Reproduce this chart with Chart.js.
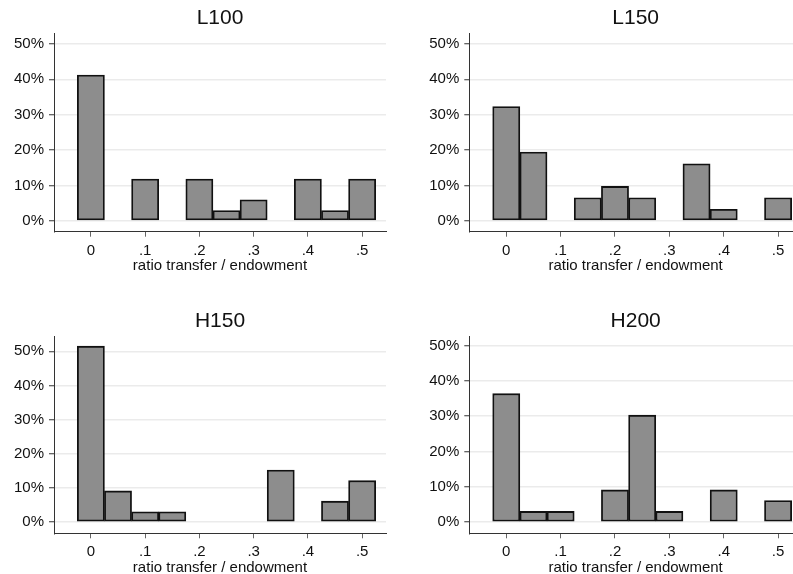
<!DOCTYPE html>
<html><head><meta charset="utf-8">
<script src="https://cdn.jsdelivr.net/npm/chart.js@4.4.1/dist/chart.umd.min.js"></script>
<style>
html,body{margin:0;padding:0;background:#fff;overflow:hidden;}
#wrap{position:relative;width:793px;height:574px;overflow:hidden;background:#fff;}
canvas{position:absolute;}
</style></head><body>
<div id="wrap">
<canvas id="c0"></canvas><canvas id="c1"></canvas><canvas id="c2"></canvas><canvas id="c3"></canvas>
</div>
<script>
// ---- data ----
const binCenters = [0, 0.05, 0.1, 0.15, 0.2, 0.25, 0.3, 0.35, 0.4, 0.45, 0.5];
const panelTitles = ['L100', 'L150', 'H150', 'H200'];
const valuesL100 = [41.2, 0, 11.8, 0, 11.8, 2.9, 5.9, 0, 11.8, 2.9, 11.8];
const valuesL150 = [32.3, 19.4, 0, 6.5, 9.7, 6.5, 0, 16.1, 3.2, 0, 6.5];
const valuesH150 = [51.5, 9.1, 3.0, 3.0, 0, 0, 0, 15.2, 0, 6.1, 12.1];
const valuesH200 = [36.4, 3.0, 3.0, 0, 9.1, 30.3, 3.0, 0, 9.1, 0, 6.1];
const xTickValues = [0, 0.1, 0.2, 0.3, 0.4, 0.5];
const xTickLabels = ['0', '.1', '.2', '.3', '.4', '.5'];
const yTickValues = [0, 10, 20, 30, 40, 50];
const yTickLabels = ['0%', '10%', '20%', '30%', '40%', '50%'];
const xAxisTitle = 'ratio transfer / endowment';

const allValues = [valuesL100, valuesL150, valuesH150, valuesH200];

// ---- layout (positions / styles) ----
const layouts = [
  {id:'c0', left:0,   top:0,   w:400, h:287, yW:54,   padR:14, tPT:5.8,  tPB:2.3, xH:43.3, padB:12,   yMin:-3.11, yMax:53.03},
  {id:'c1', left:400, top:0,   w:416, h:287, yW:69.3, padR:14, tPT:5.8,  tPB:2.3, xH:43.3, padB:12,   yMin:-3.11, yMax:53.03},
  {id:'c2', left:0,   top:287, w:400, h:300, yW:54,   padR:14, tPT:21.7, tPB:2.1, xH:43.3, padB:10.4, yMin:-3.31, yMax:54.48},
  {id:'c3', left:400, top:287, w:416, h:300, yW:69.3, padR:14, tPT:21.7, tPB:2.1, xH:43.3, padB:10.4, yMin:-3.2,  yMax:52.75}
];
const FONT = '"Liberation Sans", Arial, sans-serif';
const TXT = '#111';

layouts.forEach((L, k) => {
  const cv = document.getElementById(L.id);
  cv.width = L.w; cv.height = L.h;
  cv.style.left = L.left + 'px'; cv.style.top = L.top + 'px';
  cv.style.width = L.w + 'px'; cv.style.height = L.h + 'px';
  new Chart(cv, {
    type: 'bar',
    data: {
      datasets: [{
        data: binCenters.map((x, i) => ({x: x, y: allValues[k][i]})),
        backgroundColor: '#8d8d8d',
        borderColor: '#111',
        borderWidth: 1.8,
        borderSkipped: false,
        barPercentage: 1,
        categoryPercentage: 1
      }]
    },
    options: {
      responsive: false,
      animation: false,
      devicePixelRatio: 1,
      layout: {padding: {left: 0, right: L.padR, top: 0, bottom: L.padB}},
      plugins: {
        legend: {display: false},
        tooltip: {enabled: false},
        title: {
          display: true, text: panelTitles[k], fullSize: false,
          color: TXT, font: {family: FONT, size: 21, weight: 'normal'},
          padding: {top: L.tPT, bottom: L.tPB}
        }
      },
      scales: {
        x: {
          type: 'linear', min: -0.068, max: 0.544, offset: false,
          afterFit: s => { s.height = L.xH; },
          afterBuildTicks: s => { s.ticks = xTickValues.map(v => ({value: v})); },
          grid: {display: true, drawOnChartArea: false, drawTicks: true, tickLength: 5, tickColor: '#666', offset: false},
          border: {display: true, color: '#333', width: 1},
          ticks: {
            autoSkip: false, maxRotation: 0, padding: 5, color: TXT,
            font: {family: FONT, size: 15},
            callback: (v, i) => xTickLabels[i]
          },
          title: {display: true, text: xAxisTitle, color: TXT, font: {family: FONT, size: 15}, padding: {top: 0, bottom: 0}}
        },
        y: {
          type: 'linear', min: L.yMin, max: L.yMax,
          afterFit: s => { s.width = L.yW; },
          afterBuildTicks: s => { s.ticks = yTickValues.map(v => ({value: v})); },
          grid: {display: true, drawOnChartArea: true, drawTicks: true, tickLength: 5, color: '#ebebeb', lineWidth: 1.5, tickColor: '#333', tickWidth: 1},
          border: {display: true, color: '#333', width: 1},
          ticks: {
            autoSkip: false, padding: 5, color: TXT,
            font: {family: FONT, size: 15},
            callback: (v, i) => yTickLabels[i]
          }
        }
      }
    }
  });
});
</script>
</body></html>
